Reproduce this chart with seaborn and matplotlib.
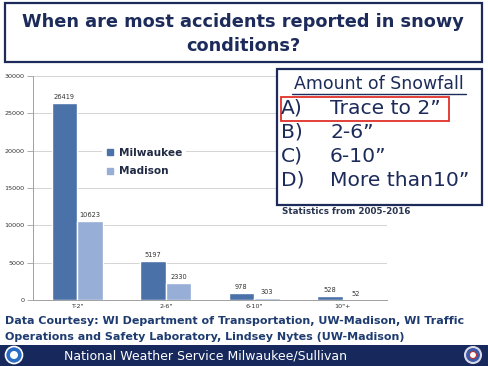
import matplotlib
matplotlib.use("Agg")
import matplotlib.pyplot as plt
import seaborn as sns
import pandas as pd
from matplotlib.patches import Rectangle, Circle
from matplotlib.lines import Line2D

categories = ['T-2"', '2-6"', '6-10"', '10"+']
milwaukee = [26419, 5197, 978, 528]
madison = [10623, 2330, 303, 52]
series_names = ["Milwaukee", "Madison"]
yticks = [0, 5000, 10000, 15000, 20000, 25000, 30000]

sns.set_theme(style="white")
plt.rcParams['font.family'] = ['DejaVu Sans']

W, H = 489, 366
fig = plt.figure(figsize=(W / 100, H / 100), dpi=100)
fig.patch.set_facecolor("white")

navy = "#1c2b5a"
bar1 = "#4a71a8"
bar2 = "#97aed6"

# chart axes (pixel layout)
x0, x1, ytop, ybot = 33, 387, 76, 300
ax = fig.add_axes([x0 / W, 1 - ybot / H, (x1 - x0) / W, (ybot - ytop) / H])
df = pd.DataFrame({
    "cat": categories * 2,
    "val": milwaukee + madison,
    "city": [series_names[0]] * 4 + [series_names[1]] * 4,
})
sns.barplot(data=df, x="cat", y="val", hue="city", palette=[bar1, bar2],
            width=0.58, gap=0, ax=ax, legend=False, saturation=1)
for c in ax.containers:
    ax.bar_label(c, labels=[f"{int(v)}" for v in c.datavalues], fontsize=4.8,
                 color="#333333", padding=2)
ax.set_xlim(-0.5, 3.5)
ax.set_ylim(0, 30000)
ax.set_yticks(yticks)
ax.set_yticklabels([str(v) for v in yticks], fontsize=4.6, color="#333333")
ax.set_xticks(range(4))
ax.set_xticklabels(categories, fontsize=4.6, color="#333333")
ax.set_xticks([-0.5, 0.5, 1.5, 2.5, 3.5], minor=True)
ax.tick_params(axis="x", which="major", length=0, pad=3)
ax.tick_params(axis="x", which="minor", length=3, color="#a0a0a0", width=0.6, direction="out")
ax.tick_params(axis="y", length=4, color="#a0a0a0", width=0.6, direction="out", pad=2, left=True)
ax.set_xlabel("")
ax.set_ylabel("")
ax.grid(axis="y", color="#d4d4d4", linewidth=0.7)
ax.set_axisbelow(True)
for s in ["top", "right"]:
    ax.spines[s].set_visible(False)
for s in ["left", "bottom"]:
    ax.spines[s].set_color("#a0a0a0")
    ax.spines[s].set_linewidth(0.7)

handles = [Line2D([], [], marker="s", linestyle="", markersize=5, color=bar1),
           Line2D([], [], marker="s", linestyle="", markersize=5, color=bar2)]
leg = ax.legend(handles, series_names, loc="center left",
                bbox_to_anchor=((97 - x0) / (x1 - x0), 1 - (162 - ytop) / (ybot - ytop)),
                frameon=True, facecolor="white", edgecolor="none", framealpha=1,
                fontsize=7.6, handletextpad=0.5, labelspacing=0.8, borderpad=0.3,
                handlelength=0.8)
for t in leg.get_texts():
    t.set_color("#222b45")
    t.set_fontweight("bold")

# overlay in pixel coordinates
ov = fig.add_axes([0, 0, 1, 1], zorder=10)
ov.set_xlim(0, W)
ov.set_ylim(H, 0)
ov.axis("off")
ov.patch.set_alpha(0)

# title box
ov.add_patch(Rectangle((5, 3), 477, 59, facecolor="white", edgecolor=navy, linewidth=1.6))
ov.text(243, 22, "When are most accidents reported in snowy", ha="center", va="center",
        fontsize=12.8, fontweight="bold", color=navy)
ov.text(243, 46, "conditions?", ha="center", va="center",
        fontsize=12.8, fontweight="bold", color=navy)

# snowfall box
ov.add_patch(Rectangle((277, 69), 205, 136, facecolor="white", edgecolor=navy, linewidth=1.6))
ov.text(379, 84, "Amount of Snowfall", ha="center", va="center", fontsize=12.5, color=navy)
ov.plot([292, 466], [94, 94], color=navy, linewidth=1.0)
rows = [("A)", "Trace to 2\u201d", 108), ("B)", "2-6\u201d", 132),
        ("C)", "6-10\u201d", 156), ("D)", "More than10\u201d", 180)]
for lab, txt, yy in rows:
    ov.text(281, yy, lab, ha="left", va="center", fontsize=14.6, color=navy)
    ov.text(330, yy, txt, ha="left", va="center", fontsize=14.6, color=navy)
ov.add_patch(Rectangle((281, 97), 168, 24, facecolor="none", edgecolor="#e0302a", linewidth=1.3))
ov.text(282, 212, "Statistics from 2005-2016", ha="left", va="center", fontsize=6.3,
        fontweight="bold", color="#2a3550")

# credits
ov.text(5, 321, "Data Courtesy: WI Department of Transportation, UW-Madison, WI Traffic",
        ha="left", va="center", fontsize=8.0, fontweight="bold", color="#1f3c70")
ov.text(5, 337, "Operations and Safety Laboratory, Lindsey Nytes (UW-Madison)",
        ha="left", va="center", fontsize=8.0, fontweight="bold", color="#1f3c70")

# footer
ov.add_patch(Rectangle((0, 345), W, 21, facecolor="#17285c", edgecolor="none"))
ov.text(206, 356, "National Weather Service Milwaukee/Sullivan", ha="center", va="center",
        fontsize=9.0, color="white")
ov.add_patch(Circle((14, 355), 8.5, facecolor="#2b6cc4", edgecolor="white", linewidth=1.2))
ov.add_patch(Circle((14, 355), 4, facecolor="white", edgecolor="none"))
ov.add_patch(Circle((473, 355), 8, facecolor="#3a5ba8", edgecolor="#d8d8e8", linewidth=1.5))
ov.add_patch(Circle((473, 355), 3.5, facecolor="white", edgecolor="#c03030", linewidth=0.8))

fig.savefig("out.png", dpi=100)
